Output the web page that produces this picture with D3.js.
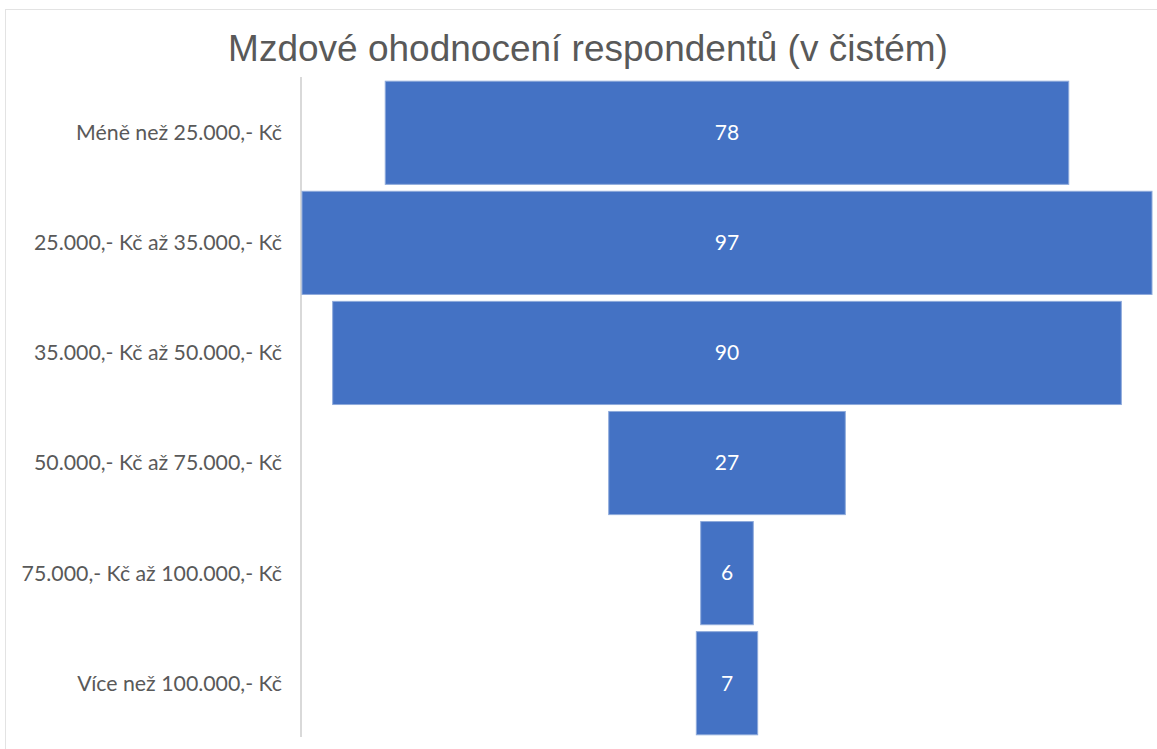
<!DOCTYPE html>
<html>
<head>
<meta charset="utf-8">
<script src="https://cdn.jsdelivr.net/npm/d3@7"></script>
<style>
  body { margin: 0; background: #fff; }
  svg { display: block; }
</style>
</head>
<body>
<svg id="chart"></svg>
<script>
let categories = [
  "Méně než 25.000,- Kč",
  "25.000,- Kč až 35.000,- Kč",
  "35.000,- Kč až 50.000,- Kč",
  "50.000,- Kč až 75.000,- Kč",
  "75.000,- Kč až 100.000,- Kč",
  "Více než 100.000,- Kč"
];
let counts = [78, 97, 90, 27, 6, 7];
let title = "Mzdové ohodnocení respondentů (v čistém)";

function getConfig() {
  let width = 1157;
  let height = 749;
  let margin = { top: 79, bottom: 12, left: 302, right: 5 };
  let bodyWidth = width - margin.left - margin.right;
  let bodyHeight = height - margin.top - margin.bottom;
  let container = d3.select("#chart")
    .attr("width", width)
    .attr("height", height);
  return { width, height, margin, bodyWidth, bodyHeight, container };
}

function getScales(config) {
  let { margin, bodyWidth, bodyHeight } = config;
  let yScale = d3.scaleBand()
    .domain(categories)
    .range([margin.top, margin.top + bodyHeight])
    .paddingInner(0.063)
    .paddingOuter(0.02);
  let wScale = d3.scaleLinear()
    .domain([0, d3.max(counts)])
    .range([0, 850]);
  let center = margin.left + 425;
  return { yScale, wScale, center };
}

function drawChart(config, scales) {
  let { container, width, height, margin } = config;
  let { yScale, wScale, center } = scales;
  let data = categories.map((c, i) => ({ cat: c, value: counts[i] }));

  // chart border
  container.append("rect")
    .attr("x", 5.5).attr("y", 9.5)
    .attr("width", width).attr("height", height)
    .attr("fill", "none")
    .attr("stroke", "#e3e3e3");

  container.append("text")
    .attr("x", 588)
    .attr("y", 61)
    .attr("text-anchor", "middle")
    .attr("font-family", "Liberation Sans, Arial, sans-serif")
    .attr("font-size", 37)
    .attr("fill", "#595959")
    .text(title);

  // axis line
  container.append("line")
    .attr("x1", 301).attr("x2", 301)
    .attr("y1", 77).attr("y2", 737)
    .attr("stroke", "#d9d9d9")
    .attr("stroke-width", 2);

  let bars = container.selectAll(".bar").data(data);
  bars.enter()
    .append("rect")
    .attr("class", "bar")
    .attr("x", d => center - wScale(d.value) / 2)
    .attr("y", d => yScale(d.cat))
    .attr("width", d => wScale(d.value))
    .attr("height", yScale.bandwidth())
    .attr("fill", "#4472c4")
    .attr("stroke", "#8eaadb")
    .attr("stroke-width", 1);

  container.selectAll(".val").data(data).enter()
    .append("text")
    .attr("x", center)
    .attr("y", d => yScale(d.cat) + yScale.bandwidth() / 2)
    .attr("dy", "0.35em")
    .attr("text-anchor", "middle")
    .attr("font-family", "Lato, Open Sans, sans-serif")
    .attr("font-size", 21)
    .attr("fill", "#ffffff")
    .text(d => d.value);

  container.selectAll(".cat").data(data).enter()
    .append("text")
    .attr("x", 282)
    .attr("y", d => yScale(d.cat) + yScale.bandwidth() / 2)
    .attr("dy", "0.35em")
    .attr("text-anchor", "end")
    .attr("font-family", "Lato, Open Sans, sans-serif")
    .attr("font-size", 21.3)
    .attr("fill", "#595959")
    .text(d => d.cat);
}

let config = getConfig();
let scales = getScales(config);
drawChart(config, scales);
</script>
</body>
</html>
